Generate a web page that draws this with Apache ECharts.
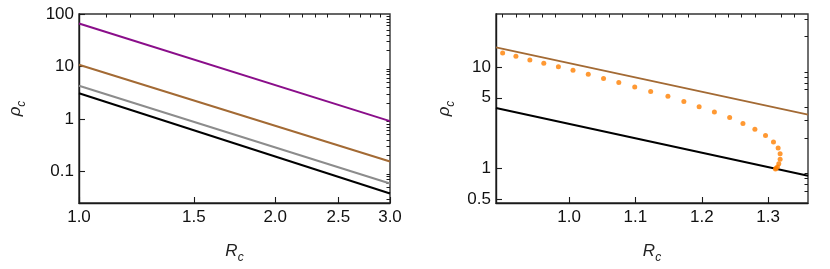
<!DOCTYPE html>
<html>
<head>
<meta charset="utf-8">
<script src="https://cdn.jsdelivr.net/npm/echarts@6/dist/echarts.min.js"></script>
<style>html,body{margin:0;padding:0;background:#fff;}#c{width:830px;height:269px;}</style>
</head>
<body>
<div id="c"></div>
<script>
// ---- Left panel data ----
var leftX = [1.0, 3.0];
var leftPurple = [65.8, 0.91];
var leftBrown = [10.8, 0.155];
var leftGray = [4.3, 0.059];
var leftBlack = [3.08, 0.038];
var leftXMajor = [1.0, 1.5, 2.0, 2.5, 3.0];
var leftXMinor = [1.1,1.2,1.3,1.4,1.6,1.7,1.8,1.9,2.1,2.2,2.3,2.4,2.6,2.7,2.8,2.9];
var leftYMajor = [0.1, 1, 10, 100];
var leftYMinor = [0.03,0.04,0.05,0.06,0.07,0.08,0.09,0.2,0.3,0.4,0.5,0.6,0.7,0.8,0.9,2,3,4,5,6,7,8,9,20,30,40,50,60,70,80,90];

// ---- Right panel data ----
var rightX = [0.89, 1.36];
var rightBrown = [15.7, 3.41];
var rightBlack = [3.96, 0.85];
var dotsX = [0.900,0.920,0.941,0.962,0.984,1.006,1.029,1.052,1.075,1.099,1.123,1.149,1.173,1.196,1.219,1.242,1.262,1.280,1.296,1.308,1.315,1.318,1.318,1.316,1.314,1.312,1.311];
var dotsY = [13.8,12.8,11.8,10.97,10.1,9.32,8.52,7.74,7.08,6.38,5.75,5.18,4.60,4.08,3.62,3.19,2.79,2.44,2.12,1.83,1.60,1.40,1.24,1.12,1.04,1.01,0.99];
var rightXMajor = [1.0, 1.1, 1.2, 1.3];
var rightXMinor = [0.9,0.92,0.94,0.96,0.98,1.02,1.04,1.06,1.08,1.12,1.14,1.16,1.18,1.22,1.24,1.26,1.28,1.32,1.34];
var rightYMajor = [0.5, 1, 5, 10];
var rightYMinor = [0.6,0.7,0.8,0.9,2,3,4,6,7,8,9,20,30];

function pairs(xs, ys){ return xs.map(function(x,i){ return [x, ys[i]]; }); }

var FONT = 'Liberation Sans';
var nameRich = {
  i: {fontFamily: FONT, fontStyle: 'italic', fontSize: 17, color: '#222', lineHeight: 20, verticalAlign: 'middle'},
  s: {fontFamily: FONT, fontStyle: 'italic', fontSize: 12, color: '#222', lineHeight: 12, verticalAlign: 'bottom', padding:[0,0,-3,0]}
};
function fmtNum(v){ return String(Number(Number(v).toPrecision(3))); }

function majorAxis(type, grid, min, max, ticks, labelFmt, name, nameGap, isY){
  var ax = {
    type: type, gridIndex: grid, min: min, max: max,
    name: name, nameLocation: 'middle', nameGap: nameGap,
    nameTextStyle: {rich: nameRich},
    axisLine: {show: true, onZero: false, lineStyle: {color: '#1a1a1a', width: 1.4}},
    axisTick: {show: true, inside: true, length: 6, lineStyle: {color: '#1a1a1a', width: 1.1}, customValues: ticks},
    axisLabel: {show: true, customValues: ticks, formatter: labelFmt, color: '#111', fontFamily: FONT, fontSize: 17, margin: isY ? 5 : 6, showMinLabel: true, showMaxLabel: true},
    splitLine: {show: false}, minorTick: {show: false}
  };
  if (type === 'log') ax.logBase = 10;
  return ax;
}
function minorAxis(type, grid, min, max, ticks){
  return {
    type: type, gridIndex: grid, min: min, max: max,
    axisLine: {show: false},
    axisTick: {show: true, inside: true, length: 3.5, lineStyle: {color: '#1a1a1a', width: 1}, customValues: ticks},
    axisLabel: {show: false},
    splitLine: {show: false}
  };
}

var chart = echarts.init(document.getElementById('c'), null, {renderer: 'canvas'});
chart.setOption({
  animation: false,
  backgroundColor: '#fff',
  grid: [
    {left: 79, top: 14, width: 311, height: 193, show: true, borderColor: '#333', borderWidth: 1.4, backgroundColor: 'transparent'},
    {left: 496, top: 14, width: 312, height: 193, show: true, borderColor: '#333', borderWidth: 1.4, backgroundColor: 'transparent'}
  ],
  xAxis: [
    majorAxis('log', 0, 1, 3, leftXMajor, function(v){ return Number(v).toFixed(1); }, '{i|R}{s|c}', 38, false),
    minorAxis('log', 0, 1, 3, leftXMinor),
    majorAxis('value', 1, rightX[0], rightX[1], rightXMajor, function(v){ return Number(v).toFixed(1); }, '{i|R}{s|c}', 38, false),
    minorAxis('value', 1, rightX[0], rightX[1], rightXMinor)
  ],
  yAxis: [
    majorAxis('log', 0, 0.025, 100, leftYMajor, fmtNum, '{i|ρ}{s|c}', 54, true),
    minorAxis('log', 0, 0.025, 100, leftYMinor),
    majorAxis('log', 1, 0.458, 33.5, rightYMajor, fmtNum, '{i|ρ}{s|c}', 42, true),
    minorAxis('log', 1, 0.458, 33.5, rightYMinor)
  ],
  series: [
    {type: 'line', xAxisIndex: 0, yAxisIndex: 0, data: pairs(leftX, leftPurple), showSymbol: false, lineStyle: {color: '#8a0e8a', width: 2}},
    {type: 'line', xAxisIndex: 0, yAxisIndex: 0, data: pairs(leftX, leftBrown), showSymbol: false, lineStyle: {color: '#a36a34', width: 2}},
    {type: 'line', xAxisIndex: 0, yAxisIndex: 0, data: pairs(leftX, leftGray), showSymbol: false, lineStyle: {color: '#8c8c8c', width: 2}},
    {type: 'line', xAxisIndex: 0, yAxisIndex: 0, data: pairs(leftX, leftBlack), showSymbol: false, lineStyle: {color: '#000', width: 2}},
    {type: 'line', xAxisIndex: 2, yAxisIndex: 2, data: pairs(rightX, rightBrown), showSymbol: false, lineStyle: {color: '#a36a34', width: 2}},
    {type: 'line', xAxisIndex: 2, yAxisIndex: 2, data: pairs(rightX, rightBlack), showSymbol: false, lineStyle: {color: '#000', width: 2}},
    {type: 'scatter', xAxisIndex: 2, yAxisIndex: 2, data: pairs(dotsX, dotsY), symbolSize: 5, itemStyle: {color: '#ff7f00'}, z: 5}
  ]
});
</script>
</body>
</html>
